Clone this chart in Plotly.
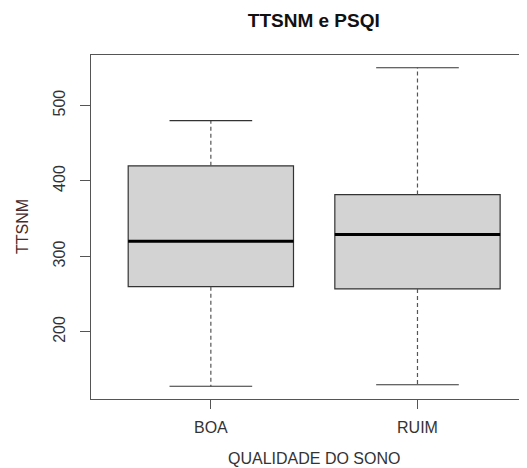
import plotly.graph_objects as go

categories = ["BOA", "RUIM"]
positions = [1, 2]
lower_whisker = [128, 130]
q1 = [260, 257]
median = [320, 329]
q3 = [420, 382]
upper_whisker = [480, 550]
y_ticks = [200, 300, 400, 500]

title_text = "TTSNM e PSQI"
x_title = "QUALIDADE DO SONO"
y_title = "TTSNM"

box_width = 0.8
cap_width = 0.4

FONT = "Liberation Sans, Arial, Helvetica, sans-serif"

fig = go.Figure()

for pos, lw, a, m, b, uw in zip(positions, lower_whisker, q1, median, q3, upper_whisker):
    # box body (no whiskers)
    fig.add_trace(go.Box(
        x=[pos], q1=[a], median=[m], q3=[b], lowerfence=[a], upperfence=[b],
        width=box_width, fillcolor="#d3d3d3",
        line=dict(color="#333333", width=1.2),
        boxpoints=False, hoverinfo="skip", showlegend=False,
    ))
    # thick median
    fig.add_trace(go.Scatter(
        x=[pos - box_width / 2, pos + box_width / 2], y=[m, m], mode="lines",
        line=dict(color="#000000", width=3), showlegend=False, hoverinfo="skip",
    ))
    # dashed whiskers
    for y0, y1 in ((b, uw), (a, lw)):
        fig.add_trace(go.Scatter(
            x=[pos, pos], y=[y0, y1], mode="lines",
            line=dict(color="#555555", width=1.2, dash="4px,3px"),
            showlegend=False, hoverinfo="skip",
        ))
    # caps
    for yc in (uw, lw):
        fig.add_trace(go.Scatter(
            x=[pos - cap_width / 2, pos + cap_width / 2], y=[yc, yc], mode="lines",
            line=dict(color="#333333", width=1.2), showlegend=False, hoverinfo="skip",
        ))

lo = min(lower_whisker)
hi = max(upper_whisker)
pad = 0.04 * (hi - lo)

fig.update_layout(
    width=519, height=460,
    margin=dict(l=83, r=0, t=47, b=69),
    paper_bgcolor="white", plot_bgcolor="white",
    font=dict(family=FONT, size=16, color="#333333"),
    title=dict(text="<b>" + title_text + "</b>", x=0.511, xref="paper", xanchor="center",
               y=1 - 12 / 460, yref="container", yanchor="middle",
               font=dict(size=19, color="#111111", family=FONT)),
    xaxis=dict(
        range=[0.42, 2.53], tickmode="array", tickvals=positions, ticktext=categories,
        showgrid=False, zeroline=False, showline=True, mirror=True,
        linecolor="#555555", linewidth=1.2,
        ticks="outside", ticklen=9, tickcolor="#555555", tickwidth=1.2,
        ticklabelstandoff=5,
        tickfont=dict(size=16, color="#333333"),
    ),
    yaxis=dict(
        range=[lo - pad, hi + pad], tickmode="array", tickvals=y_ticks,
        showgrid=False, zeroline=False, showline=True, mirror=False,
        linecolor="#555555", linewidth=1.2,
        ticks="outside", ticklen=10, tickcolor="#555555", tickwidth=1.2,
        ticklabelstandoff=9,
        tickangle=-90, tickfont=dict(size=16, color="#333333"),
    ),
    annotations=[
        dict(text=x_title, xref="paper", yref="paper", x=0.511, y=0, yshift=-59,
             xanchor="center", yanchor="middle", showarrow=False,
             font=dict(size=16, color="#333333")),
        dict(text=y_title, xref="paper", yref="paper", x=0, y=0.5, xshift=-69,
             xanchor="center", yanchor="middle", textangle=-90, showarrow=False,
             font=dict(size=16, color="#4a2a2a")),
    ],
)

fig.write_html("out.html")
